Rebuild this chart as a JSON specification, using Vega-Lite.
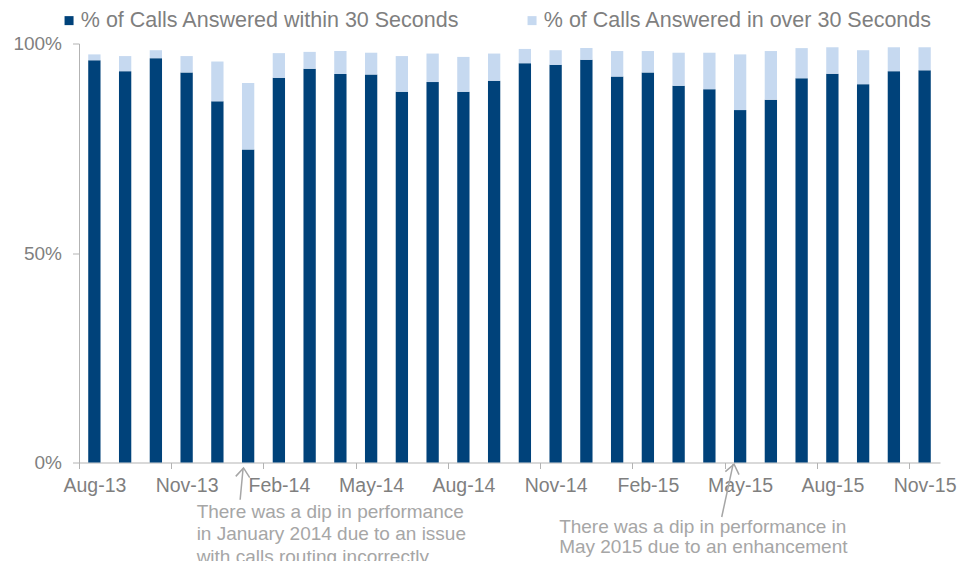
{
  "$schema": "https://vega.github.io/schema/vega-lite/v6.json",
  "width": 861,
  "height": 419,
  "autosize": "none",
  "padding": {"left": 79, "top": 43.5, "right": 17, "bottom": 98.5},
  "config": {
    "view": {"stroke": null},
    "font": "Liberation Sans",
    "axis": {"grid": false}
  },
  "datasets": {
    "calls": [
      {"month": "Aug-13", "within": 96.0, "over": 1.4},
      {"month": "Sep-13", "within": 93.4, "over": 3.6},
      {"month": "Oct-13", "within": 96.5, "over": 1.9},
      {"month": "Nov-13", "within": 93.1, "over": 3.9},
      {"month": "Dec-13", "within": 86.2, "over": 9.5},
      {"month": "Jan-14", "within": 74.7, "over": 15.9},
      {"month": "Feb-14", "within": 91.8, "over": 5.9},
      {"month": "Mar-14", "within": 94.0, "over": 4.0},
      {"month": "Apr-14", "within": 92.7, "over": 5.5},
      {"month": "May-14", "within": 92.6, "over": 5.2},
      {"month": "Jun-14", "within": 88.5, "over": 8.5},
      {"month": "Jul-14", "within": 90.8, "over": 6.8},
      {"month": "Aug-14", "within": 88.5, "over": 8.3},
      {"month": "Sep-14", "within": 91.1, "over": 6.5},
      {"month": "Oct-14", "within": 95.3, "over": 3.4},
      {"month": "Nov-14", "within": 94.9, "over": 3.5},
      {"month": "Dec-14", "within": 96.1, "over": 2.8},
      {"month": "Jan-15", "within": 92.1, "over": 6.1},
      {"month": "Feb-15", "within": 93.1, "over": 5.1},
      {"month": "Mar-15", "within": 89.9, "over": 7.9},
      {"month": "Apr-15", "within": 89.1, "over": 8.7},
      {"month": "May-15", "within": 84.1, "over": 13.3},
      {"month": "Jun-15", "within": 86.6, "over": 11.6},
      {"month": "Jul-15", "within": 91.7, "over": 7.2},
      {"month": "Aug-15", "within": 92.8, "over": 6.3},
      {"month": "Sep-15", "within": 90.3, "over": 8.1},
      {"month": "Oct-15", "within": 93.4, "over": 5.7},
      {"month": "Nov-15", "within": 93.6, "over": 5.5}
    ]
  },
  "encoding": {
    "x": {
      "field": "month",
      "type": "nominal",
      "title": null,
      "scale": {
        "domain": ["Aug-13", "Sep-13", "Oct-13", "Nov-13", "Dec-13", "Jan-14", "Feb-14", "Mar-14", "Apr-14", "May-14", "Jun-14", "Jul-14", "Aug-14", "Sep-14", "Oct-14", "Nov-14", "Dec-14", "Jan-15", "Feb-15", "Mar-15", "Apr-15", "May-15", "Jun-15", "Jul-15", "Aug-15", "Sep-15", "Oct-15", "Nov-15"],
        "paddingInner": 0.6,
        "paddingOuter": 0.3
      },
      "axis": {
        "title": null,
        "values": ["Aug-13", "Nov-13", "Feb-14", "May-14", "Aug-14", "Nov-14", "Feb-15", "May-15", "Aug-15", "Nov-15"],
        "labelAngle": 0,
        "labelFontSize": 19.5,
        "labelColor": "#7f7f7f",
        "labelPadding": 8,
        "domainColor": "#b3b3b3",
        "tickColor": "#b3b3b3",
        "tickSize": 6,
        "tickOffset": -15.4,
        "labelOffset": 15.4
      }
    }
  },
  "layer": [
    {
      "data": {"name": "calls"},
      "transform": [
        {"fold": ["within", "over"], "as": ["series", "pct"]}
      ],
      "mark": {"type": "bar"},
      "encoding": {
        "y": {
          "field": "pct",
          "type": "quantitative",
          "stack": "zero",
          "title": null,
          "scale": {"domain": [0, 100], "nice": false},
          "axis": {
            "title": null,
            "values": [0, 50, 100],
            "labelExpr": "datum.value + '%'",
            "labelFontSize": 19,
            "labelColor": "#7f7f7f",
            "labelPadding": 11,
            "domainColor": "#b3b3b3",
            "tickColor": "#b3b3b3",
            "tickSize": 6.5
          }
        },
        "color": {
          "field": "series",
          "type": "nominal",
          "sort": ["within", "over"],
          "scale": {"domain": ["within", "over"], "range": ["#00427a", "#c6d9f0"]},
          "legend": {
            "title": null,
            "orient": "none",
            "direction": "horizontal",
            "legendX": -20.7,
            "legendY": -34,
            "padding": 0,
            "labelExpr": "datum.value == 'within' ? '% of Calls Answered within 30 Seconds' : '% of Calls Answered in over 30 Seconds'",
            "labelFontSize": 21.5,
            "labelColor": "#7f7f7f",
            "labelOffset": 1,
            "labelLimit": 500,
            "symbolType": "square",
            "symbolSize": 81,
            "symbolStrokeWidth": 0,
            "columnPadding": 61
          }
        },
        "order": {"field": "series", "sort": "descending"}
      }
    },
    {
      "data": {"values": [{"month": "Jan-14", "tip": -1.3, "base": -8.9, "texty": -13.7, "note": "There was a dip in performance\nin January 2014 due to an issue\nwith calls routing incorrectly."}]},
      "layer": [
        {
          "mark": {"type": "rule", "color": "#a6a6a6", "strokeWidth": 1.5, "xOffset": -5, "x2Offset": -8},
          "encoding": {
            "x2": {"field": "month"},
            "y": {"field": "tip", "type": "quantitative", "title": null},
            "y2": {"field": "base"}
          }
        },
        {
          "mark": {"type": "point", "shape": "M-1,0.65L0,-0.65L1,0.65", "filled": false, "opacity": 1, "stroke": "#a6a6a6", "strokeWidth": 1.5, "size": 196, "angle": 5, "xOffset": -5, "yOffset": 4.5},
          "encoding": {
            "y": {"field": "tip", "type": "quantitative", "title": null}
          }
        },
        {
          "mark": {"type": "text", "align": "left", "baseline": "alphabetic", "lineBreak": "\n", "lineHeight": 22.5, "fontSize": 19, "color": "#a6a6a6", "dx": -51.5, "dy": -2},
          "encoding": {
            "y": {"field": "texty", "type": "quantitative", "title": null},
            "text": {"field": "note"}
          }
        }
      ]
    },
    {
      "data": {"values": [{"month": "May-15", "tip": -0.4, "base": -13.0, "texty": -16.9, "note": "There was a dip in performance in\nMay 2015 due to an enhancement"}]},
      "layer": [
        {
          "mark": {"type": "rule", "color": "#a6a6a6", "strokeWidth": 1.5, "xOffset": -7, "x2Offset": -18.4},
          "encoding": {
            "x2": {"field": "month"},
            "y": {"field": "tip", "type": "quantitative", "title": null},
            "y2": {"field": "base"}
          }
        },
        {
          "mark": {"type": "point", "shape": "M-1,0.65L0,-0.65L1,0.65", "filled": false, "opacity": 1, "stroke": "#a6a6a6", "strokeWidth": 1.5, "size": 196, "angle": 12, "xOffset": -7, "yOffset": 4.5},
          "encoding": {
            "y": {"field": "tip", "type": "quantitative", "title": null}
          }
        },
        {
          "mark": {"type": "text", "align": "left", "baseline": "alphabetic", "lineBreak": "\n", "lineHeight": 20, "fontSize": 19, "color": "#a6a6a6", "dx": -181},
          "encoding": {
            "y": {"field": "texty", "type": "quantitative", "title": null},
            "text": {"field": "note"}
          }
        }
      ]
    }
  ]
}
